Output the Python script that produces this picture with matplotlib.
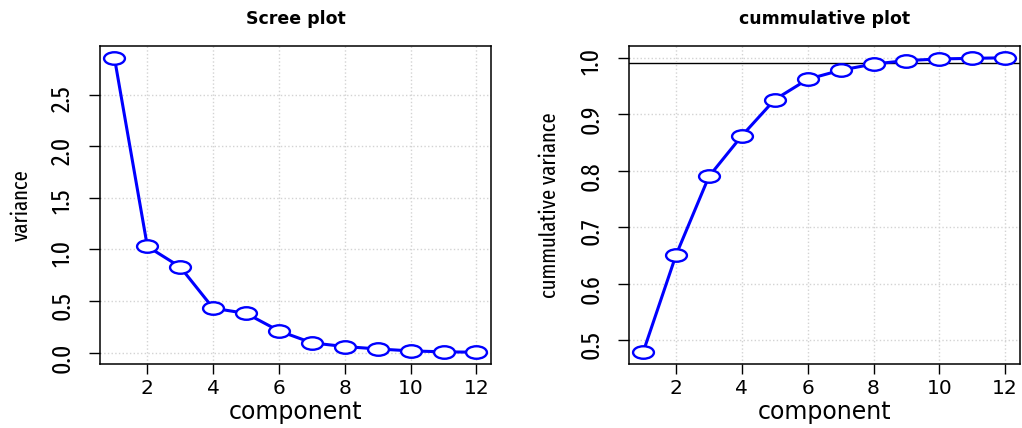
import os
import matplotlib
matplotlib.use("Agg")
import matplotlib.pyplot as plt
from matplotlib import font_manager
from matplotlib.path import Path
from matplotlib.transforms import Affine2D

# data
components = list(range(1, 13))
variance = [2.86, 1.03, 0.83, 0.43, 0.38, 0.21, 0.094, 0.058, 0.035, 0.016, 0.007, 0.003]
cumulative = [0.479, 0.651, 0.790, 0.862, 0.926, 0.962, 0.978, 0.989, 0.995, 0.998, 0.999, 1.0]
threshold = 0.99

x_ticks = [2, 4, 6, 8, 10, 12]
var_ticks = [0.0, 0.5, 1.0, 1.5, 2.0, 2.5]
cum_ticks = [0.5, 0.6, 0.7, 0.8, 0.9, 1.0]

wide = "DejaVu Sans"


def pick_narrow():
    # the reference is stretched sideways, so rotated text looks condensed:
    # look for a condensed sans face, else fall back to Liberation Sans
    best = None
    for f in font_manager.fontManager.ttflist:
        base = os.path.basename(f.fname)
        if "Sans" not in f.name or "Mono" in f.name or f.style != "normal":
            continue
        if f.weight not in (400, "normal", "regular") or "Bold" in base or "Light" in base:
            continue
        if "ExtraCondensed" in base:
            rank = 0
        elif "SemiCondensed" in base:
            rank = 2
        elif "Condensed" in base or "Narrow" in base:
            rank = 1
        else:
            continue
        if best is None or rank < best[0]:
            best = (rank, f.fname)
    if best is None:
        return {"family": "Liberation Sans"}, 15, 13.5
    sizes = {0: (18.5, 16.2), 1: (17, 14.5), 2: (16, 14)}[best[0]]
    return {"fname": best[1]}, sizes[0], sizes[1]


narrow, ysize, ylab = pick_narrow()

# ellipse marker (circles got stretched in the original)
ellipse = Path.unit_circle().transformed(Affine2D().scale(1.0, 0.6))


def r_lim(vals):
    lo, hi = min(vals), max(vals)
    ext = 0.04 * (hi - lo)
    return lo - ext, hi + ext


def panel(ax, y, yticks, title, ylabel):
    ax.grid(True, color="#d3d3d3", linestyle=":", linewidth=1.0, zorder=0)
    ax.plot(components, y, color="blue", lw=2.2, zorder=2)
    ax.plot(components, y, linestyle="none", marker=ellipse, ms=15,
            mfc="white", mec="blue", mew=1.7, zorder=3)
    ax.set_xlim(r_lim(components))
    ax.set_ylim(r_lim(y))
    ax.set_xticks(x_ticks)
    ax.set_yticks(yticks)
    ax.set_xticklabels([str(t) for t in x_ticks], family=wide, fontsize=14.5)
    ax.set_yticklabels([f"{t:.1f}" for t in yticks],
                       fontproperties=font_manager.FontProperties(size=ysize, **narrow))
    ax.tick_params(axis="x", length=7, width=1, pad=4)
    ax.tick_params(axis="y", length=8, width=1, pad=10, labelrotation=90)
    for s in ax.spines.values():
        s.set_linewidth(1.1)
    ax.set_title(title, family=wide, fontweight="bold", fontsize=12.5, pad=16)
    ax.set_xlabel("component", family=wide, fontsize=17, labelpad=1)
    ax.set_ylabel(ylabel, fontproperties=font_manager.FontProperties(size=ylab, **narrow),
                  labelpad=13)


fig = plt.figure(figsize=(10.22, 4.28), dpi=100)
ax1 = fig.add_axes([0.0978, 0.1495, 0.3826, 0.743])
ax2 = fig.add_axes([0.6151, 0.1495, 0.3826, 0.743])

panel(ax1, variance, var_ticks, "Scree plot", "variance")
panel(ax2, cumulative, cum_ticks, "cummulative plot", "cummulative variance")
ax2.axhline(threshold, color="black", lw=1.0, zorder=1)

fig.savefig("out.png", dpi=100)
